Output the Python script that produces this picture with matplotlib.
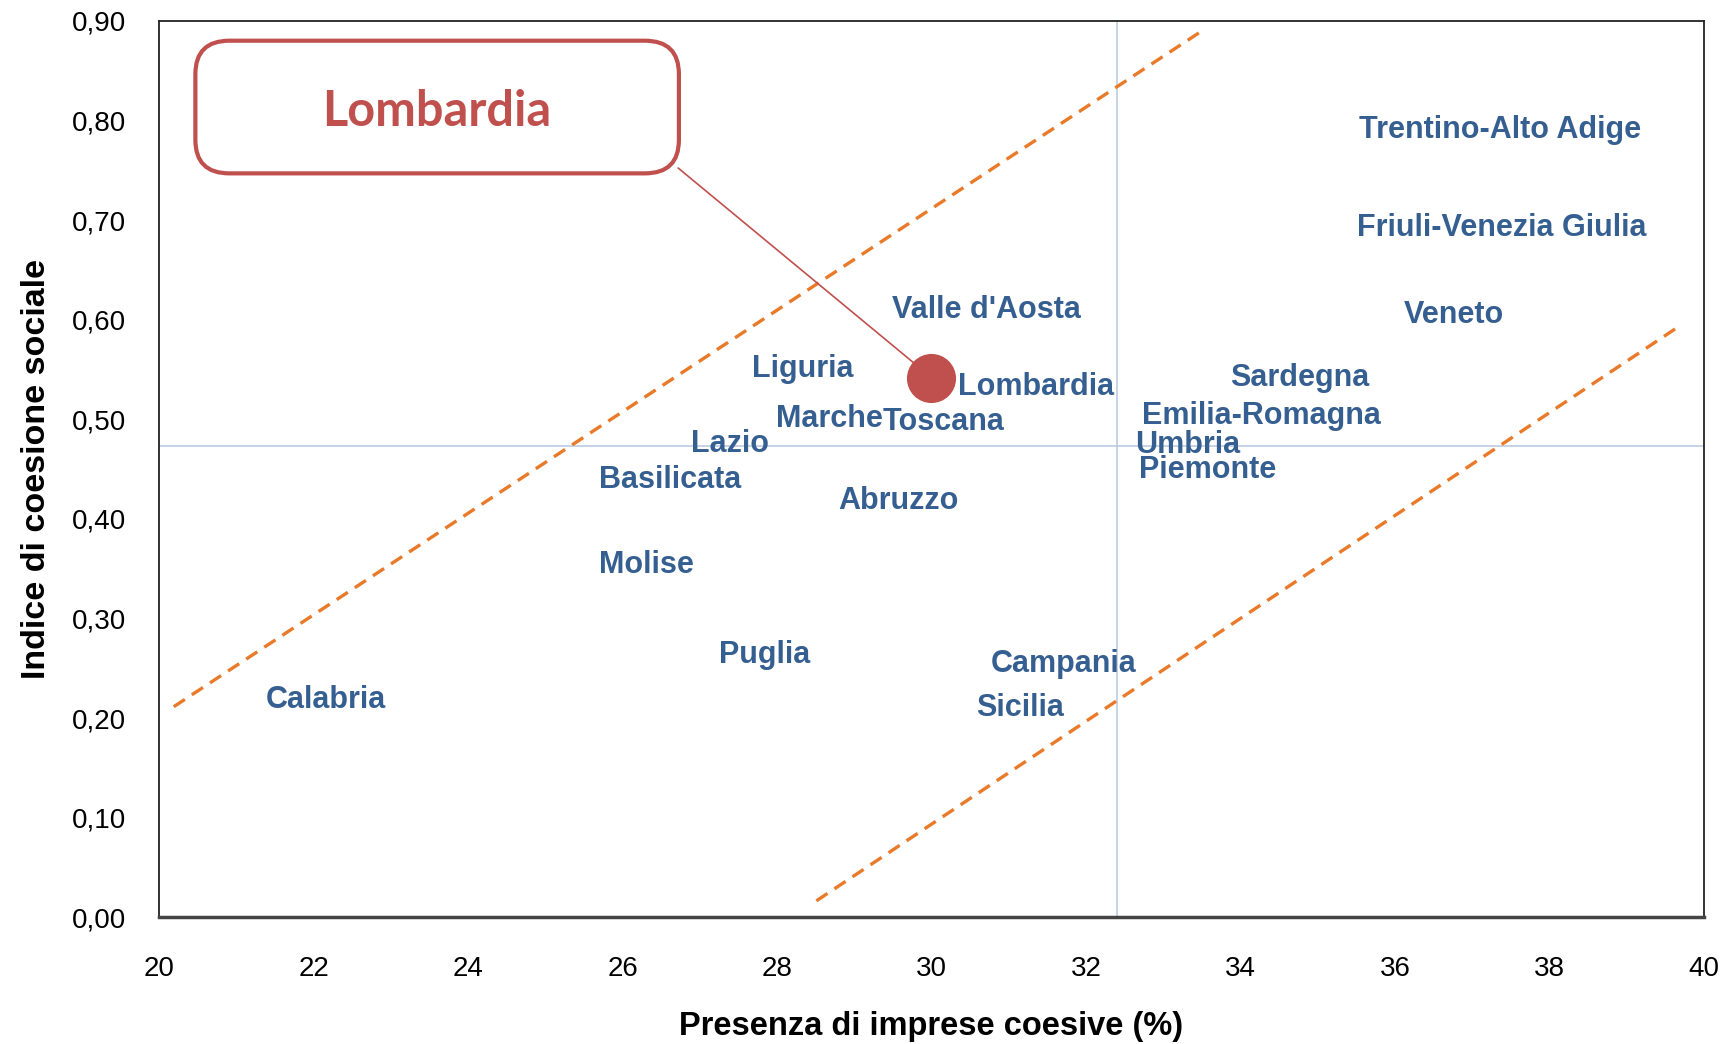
import matplotlib.pyplot as plt
from matplotlib.patches import FancyBboxPatch

# regioni: presenza imprese coesive (%) vs indice di coesione sociale
regioni = ['Trentino-Alto Adige', 'Friuli-Venezia Giulia', 'Veneto', "Valle d'Aosta",
           'Liguria', 'Lombardia', 'Sardegna', 'Marche', 'Toscana', 'Emilia-Romagna',
           'Lazio', 'Umbria', 'Piemonte', 'Basilicata', 'Abruzzo', 'Molise',
           'Puglia', 'Campania', 'Sicilia', 'Calabria']
imprese = [35.19, 35.17, 35.77, 29.15, 27.34, 30.0, 33.52, 27.64, 29.02, 32.38,
           26.54, 32.29, 32.35, 25.35, 28.45, 25.35, 26.91, 30.42, 30.24, 21.04]
coesione = [0.793, 0.695, 0.608, 0.613, 0.553, 0.535, 0.544, 0.503, 0.500, 0.506,
            0.478, 0.477, 0.452, 0.442, 0.421, 0.357, 0.266, 0.257, 0.213, 0.221]

media_x = 32.4
media_y = 0.473

# fasce tratteggiate
fascia_sup_x = [20.19, 33.50]
fascia_sup_y = [0.2115, 0.890]
fascia_inf_x = [28.51, 39.66]
fascia_inf_y = [0.0166, 0.5925]

evidenza = 'Lombardia'
x_ticks = [20, 22, 24, 26, 28, 30, 32, 34, 36, 38, 40]
y_ticks = [0.0, 0.1, 0.2, 0.3, 0.4, 0.5, 0.6, 0.7, 0.8, 0.9]

BLU = '#365F91'
ROSSO = '#C0504D'
ARANCIO = '#E87A2A'
SANS = ['Liberation Sans', 'DejaVu Sans']

fig = plt.figure(figsize=(17.29, 10.44), dpi=100)
ax = fig.add_axes([0.092, 0.1213, 0.8935, 0.8586])

ax.set_xlim(20, 40)
ax.set_ylim(0, 0.9)

ax.axvline(media_x, color='#BCCCE0', lw=1.2, zorder=1)
ax.axhline(media_y, color='#BCCCE0', lw=1.2, zorder=1)

ax.plot(fascia_sup_x, fascia_sup_y, ls=(0, (4, 2.5)), color=ARANCIO, lw=2.4, zorder=2)
ax.plot(fascia_inf_x, fascia_inf_y, ls=(0, (4, 2.5)), color=ARANCIO, lw=2.4, zorder=2)

for nome, x, y in zip(regioni, imprese, coesione):
    ax.annotate(nome, xy=(x, y), xytext=(19, -2), textcoords='offset points',
                ha='left', va='center', fontsize=22, fontweight='bold',
                family=SANS, color=BLU, zorder=4)

i = regioni.index(evidenza)
ax.scatter([imprese[i]], [coesione[i] + 0.007], s=1250, color=ROSSO, zorder=5, lw=0)

# riquadro di richiamo
box = FancyBboxPatch((0.0235, 0.83), 0.313, 0.148, transform=ax.transAxes,
                     boxstyle='round,pad=0,rounding_size=0.022', mutation_aspect=1.7,
                     facecolor='white', edgecolor=ROSSO, lw=3, zorder=6)
ax.add_patch(box)
ax.text(0.18, 0.899, evidenza, transform=ax.transAxes, ha='center', va='center',
        fontsize=35, fontweight='bold', family=['Lato', 'DejaVu Sans'], color=ROSSO, zorder=7)
ax.annotate('', xy=(imprese[i], coesione[i] + 0.007), xycoords='data',
            xytext=(0.336, 0.836), textcoords='axes fraction',
            arrowprops=dict(arrowstyle='-', color=ROSSO, lw=1.2, shrinkA=0, shrinkB=17),
            zorder=5)

ax.set_xticks(x_ticks)
ax.set_xticklabels([str(t) for t in x_ticks], family=SANS, fontsize=20)
ax.set_yticks(y_ticks)
ax.set_yticklabels([f'{t:.2f}'.replace('.', ',') for t in y_ticks], family=SANS, fontsize=20)
ax.tick_params(axis='x', length=0, pad=28)
ax.tick_params(axis='y', length=0, pad=24)

for s in ['top', 'right', 'left']:
    ax.spines[s].set_linewidth(1.3)
    ax.spines[s].set_color('#222222')
ax.spines['bottom'].set_linewidth(2.5)
ax.spines['bottom'].set_color('#444444')

ax.set_xlabel('Presenza di imprese coesive (%)', family=SANS,
              fontweight='bold', fontsize=23.5, labelpad=21)
ax.set_ylabel('Indice di coesione sociale', family=SANS, fontweight='bold', fontsize=24.5,
              labelpad=14)

fig.savefig('out.png', dpi=100)
